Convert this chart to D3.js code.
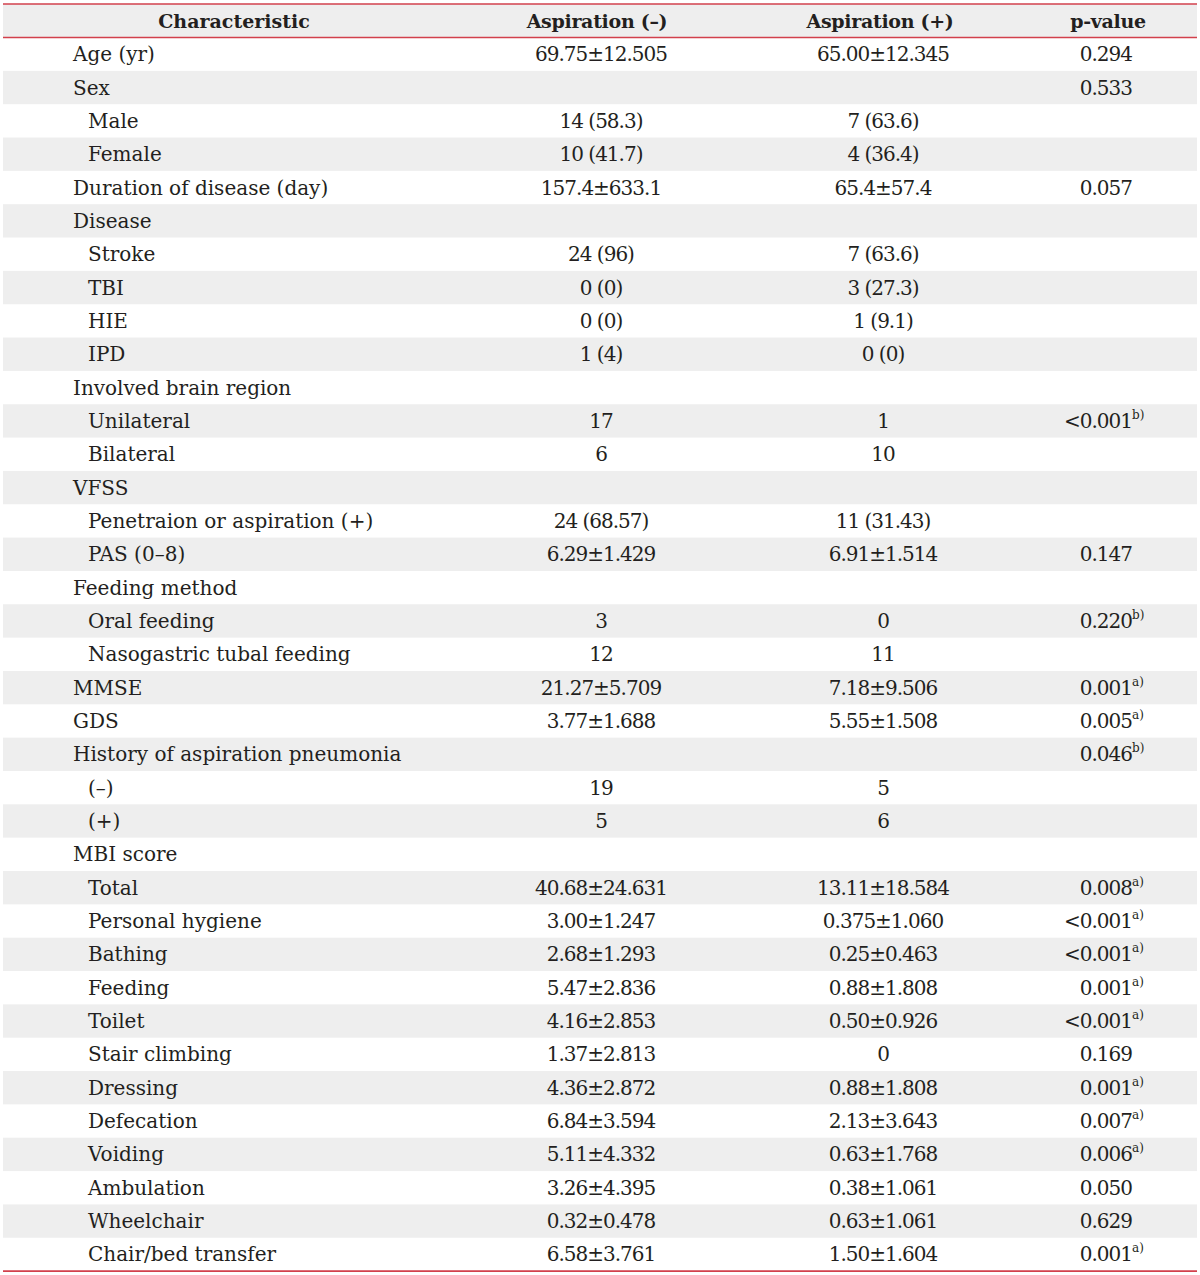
<!DOCTYPE html>
<html>
<head>
<meta charset="utf-8">
<script src="https://cdn.jsdelivr.net/npm/d3@7"></script>
<style>
  html, body { margin: 0; padding: 0; background: #fff; }
  svg text { font-family: "DejaVu Serif", serif; fill: #231f20; }
</style>
</head>
<body>
<div id="chart"></div>
<script>
// --- Table data ---
const headers = ['Characteristic', 'Aspiration (\u2013)', 'Aspiration (+)', 'p-value'];

const labels = [
  'Age (yr)', 'Sex', 'Male', 'Female', 'Duration of disease (day)', 'Disease',
  'Stroke', 'TBI', 'HIE', 'IPD', 'Involved brain region', 'Unilateral', 'Bilateral',
  'VFSS', 'Penetraion or aspiration (+)', 'PAS (0\u20138)', 'Feeding method',
  'Oral feeding', 'Nasogastric tubal feeding', 'MMSE', 'GDS',
  'History of aspiration pneumonia', '(\u2013)', '(+)', 'MBI score', 'Total',
  'Personal hygiene', 'Bathing', 'Feeding', 'Toilet', 'Stair climbing', 'Dressing',
  'Defecation', 'Voiding', 'Ambulation', 'Wheelchair', 'Chair/bed transfer'
];

// 0 = top-level row, 1 = sub-row
const indents = [
  0, 0, 1, 1, 0, 0,
  1, 1, 1, 1, 0, 1, 1,
  0, 1, 1, 0,
  1, 1, 0, 0,
  0, 1, 1, 0, 1,
  1, 1, 1, 1, 1, 1,
  1, 1, 1, 1, 1
];

const aspirationNeg = [
  '69.75\u00b112.505', '', '14 (58.3)', '10 (41.7)', '157.4\u00b1633.1', '',
  '24 (96)', '0 (0)', '0 (0)', '1 (4)', '', '17', '6',
  '', '24 (68.57)', '6.29\u00b11.429', '',
  '3', '12', '21.27\u00b15.709', '3.77\u00b11.688',
  '', '19', '5', '', '40.68\u00b124.631',
  '3.00\u00b11.247', '2.68\u00b11.293', '5.47\u00b12.836', '4.16\u00b12.853', '1.37\u00b12.813', '4.36\u00b12.872',
  '6.84\u00b13.594', '5.11\u00b14.332', '3.26\u00b14.395', '0.32\u00b10.478', '6.58\u00b13.761'
];

const aspirationPos = [
  '65.00\u00b112.345', '', '7 (63.6)', '4 (36.4)', '65.4\u00b157.4', '',
  '7 (63.6)', '3 (27.3)', '1 (9.1)', '0 (0)', '', '1', '10',
  '', '11 (31.43)', '6.91\u00b11.514', '',
  '0', '11', '7.18\u00b19.506', '5.55\u00b11.508',
  '', '5', '6', '', '13.11\u00b118.584',
  '0.375\u00b11.060', '0.25\u00b10.463', '0.88\u00b11.808', '0.50\u00b10.926', '0', '0.88\u00b11.808',
  '2.13\u00b13.643', '0.63\u00b11.768', '0.38\u00b11.061', '0.63\u00b11.061', '1.50\u00b11.604'
];

const pValues = [
  '0.294', '0.533', '', '', '0.057', '',
  '', '', '', '', '', '<0.001', '',
  '', '', '0.147', '',
  '0.220', '', '0.001', '0.005',
  '0.046', '', '', '', '0.008',
  '<0.001', '<0.001', '0.001', '<0.001', '0.169', '0.001',
  '0.007', '0.006', '0.050', '0.629', '0.001'
];

const pNotes = [
  '', '', '', '', '', '',
  '', '', '', '', '', 'b)', '',
  '', '', '', '',
  'b)', '', 'a)', 'a)',
  'b)', '', '', '', 'a)',
  'a)', 'a)', 'a)', 'a)', '', 'a)',
  'a)', 'a)', '', '', 'a)'
];

// --- Layout ---
const WIDTH = 1200;
const HEIGHT = 1275;
const TABLE_LEFT = 3;
const TABLE_RIGHT = 1197;
const HEADER_TOP = 4;
const BODY_TOP = 37.5;
const ROW_H = 33.34;
const RULE_COLOR = '#d2404c';
const STRIPE = '#eeeeee';

const rows = labels.map((label, i) => ({
  label,
  indent: indents[i],
  neg: aspirationNeg[i],
  pos: aspirationPos[i],
  p: pValues[i],
  note: pNotes[i]
}));

const y = d3.scaleBand()
  .domain(d3.range(rows.length))
  .range([BODY_TOP, BODY_TOP + ROW_H * rows.length])
  .padding(0);

// column anchors
const col = {
  labelX: 73,
  indentStep: 15,
  head0: 234,
  neg: 601,
  pos: 883,
  pRight: 1131,
  pHead: 1108
};

const svg = d3.select('#chart')
  .append('svg')
  .attr('width', WIDTH)
  .attr('height', HEIGHT);

// Header background
svg.append('rect')
  .attr('x', TABLE_LEFT)
  .attr('y', HEADER_TOP)
  .attr('width', TABLE_RIGHT - TABLE_LEFT)
  .attr('height', BODY_TOP - HEADER_TOP)
  .attr('fill', STRIPE);

// Striped rows (every second body row)
svg.selectAll('.stripe')
  .data(d3.range(1, rows.length, 2))
  .join('rect')
  .attr('class', 'stripe')
  .attr('x', TABLE_LEFT)
  .attr('y', i => y(i))
  .attr('width', TABLE_RIGHT - TABLE_LEFT)
  .attr('height', y.bandwidth())
  .attr('fill', STRIPE);

// Header text
const headY = (HEADER_TOP + BODY_TOP) / 2 + 7;
const headX = [col.head0, 597, 880, col.pHead];
svg.selectAll('.head')
  .data(headers)
  .join('text')
  .attr('class', 'head')
  .attr('x', (d, i) => headX[i])
  .attr('y', headY)
  .attr('text-anchor', 'middle')
  .attr('font-size', '19px')
  .attr('font-weight', 'bold')
  .attr('letter-spacing', (d, i) => i === 0 ? 0 : '-0.3px')
  .text(d => d);

// Body rows
const rowG = svg.selectAll('.row')
  .data(rows)
  .join('g')
  .attr('class', 'row')
  .attr('transform', (d, i) => `translate(0, ${y(i) + y.bandwidth() / 2 + 7})`);

rowG.append('text')
  .attr('x', d => col.labelX + d.indent * col.indentStep)
  .attr('font-size', '20px')
  .text(d => d.label);

rowG.append('text')
  .attr('x', col.neg)
  .attr('text-anchor', 'middle')
  .attr('font-size', '20px')
  .attr('letter-spacing', '-1px')
  .text(d => d.neg);

rowG.append('text')
  .attr('x', col.pos)
  .attr('text-anchor', 'middle')
  .attr('font-size', '20px')
  .attr('letter-spacing', '-1px')
  .text(d => d.pos);

rowG.append('text')
  .attr('x', col.pRight + 1)
  .attr('text-anchor', 'end')
  .attr('font-size', '20px')
  .attr('letter-spacing', '-1px')
  .text(d => d.p);

rowG.filter(d => d.note)
  .append('text')
  .attr('x', col.pRight + 1)
  .attr('y', -9)
  .attr('font-size', '12px')
  .text(d => d.note);

// Rules
const rules = [HEADER_TOP, BODY_TOP, BODY_TOP + ROW_H * rows.length];
svg.selectAll('.rule')
  .data(rules)
  .join('line')
  .attr('class', 'rule')
  .attr('x1', TABLE_LEFT)
  .attr('x2', TABLE_RIGHT)
  .attr('y1', d => d)
  .attr('y2', d => d)
  .attr('stroke', RULE_COLOR)
  .attr('stroke-width', 1.6);
</script>
</body>
</html>
